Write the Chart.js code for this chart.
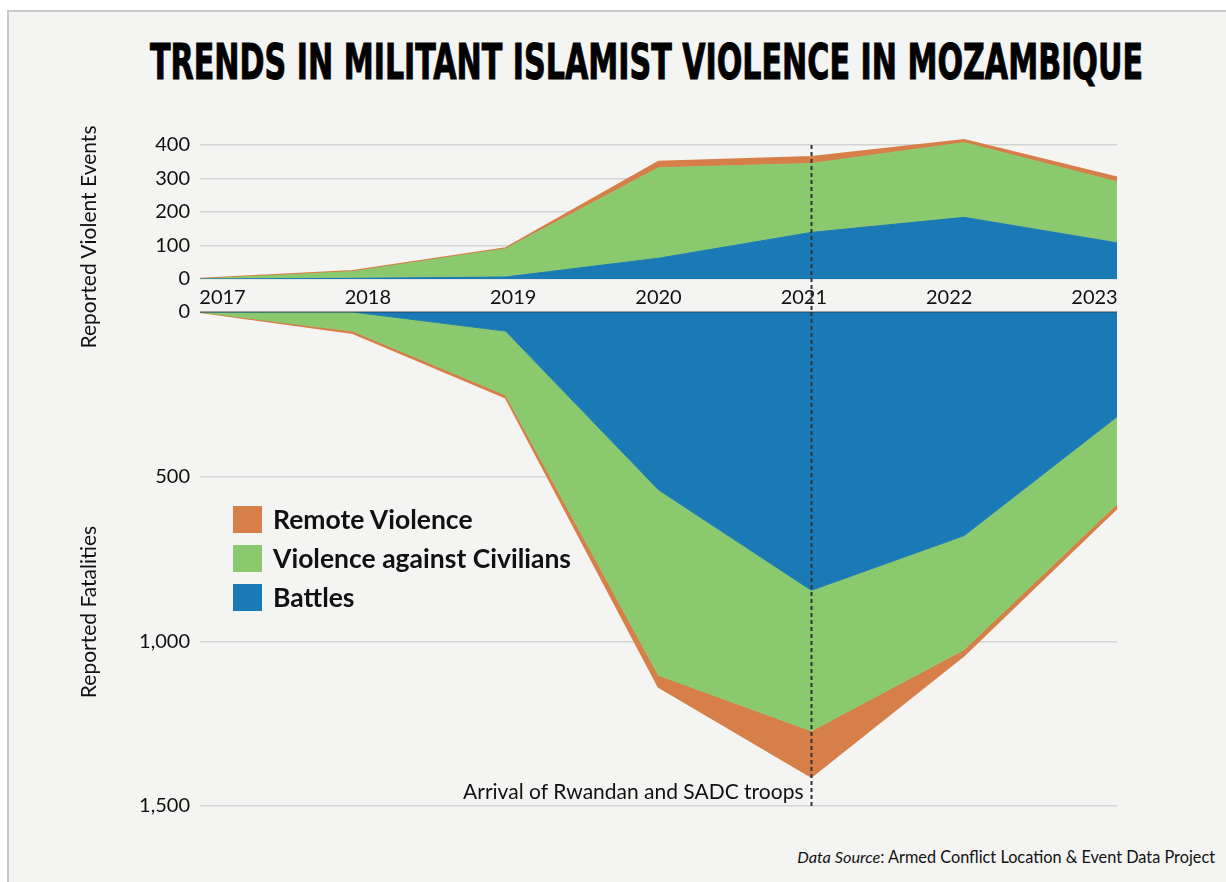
<!DOCTYPE html>
<html><head><meta charset="utf-8">
<script src="https://cdn.jsdelivr.net/npm/chart.js@4.4.1/dist/chart.umd.min.js"></script>
<style>
html,body{margin:0;padding:0;background:#fff;width:1226px;height:882px;overflow:hidden;font-family:Lato,'Open Sans',sans-serif;color:#111;}
#frame{position:absolute;left:7px;top:10px;width:1240px;height:900px;background:#f4f4f2;border-left:2px solid #c8c8c8;border-top:2px solid #c8c8c8;}
#title{position:absolute;left:150px;top:37px;white-space:nowrap;font-weight:bold;font-size:50px;font-family:'Liberation Sans Narrow','DejaVu Sans Condensed','Liberation Sans',sans-serif;line-height:1;transform-origin:0 0;color:#000;-webkit-text-stroke:1px #000;}
canvas{position:absolute;left:0;}
.ytitle{position:absolute;white-space:nowrap;font-size:21px;transform:translate(-50%,-50%) rotate(-90deg);color:#111;}
#legend{position:absolute;left:233px;top:506px;}
.lrow{position:absolute;left:0;height:27px;white-space:nowrap;}
.lsw{position:absolute;left:0;top:0;width:29px;height:27px;}
.ltx{position:absolute;left:40px;top:50%;transform:translateY(-52%);font-weight:bold;font-size:26.5px;color:#111;}
#source{position:absolute;right:11px;top:847px;font-size:16.3px;white-space:nowrap;color:#111;}
</style></head>
<body>
<div id="frame"></div>
<div id="title">TRENDS IN MILITANT ISLAMIST VIOLENCE IN MOZAMBIQUE</div>
<canvas id="topChart" width="1226" height="200" style="top:120px"></canvas>
<canvas id="botChart" width="1226" height="530" style="top:300px"></canvas>
<div class="ytitle" style="left:87px;top:237px">Reported Violent Events</div>
<div class="ytitle" style="left:87px;top:612px">Reported Fatalities</div>
<div id="legend"></div>
<div id="source"><i>Data Source</i>: Armed Conflict Location &amp; Event Data Project</div>
<script>
const years = ['2017','2018','2019','2020','2021','2022','2023'];
const seriesNames = ['Battles','Violence against Civilians','Remote Violence'];
const seriesColors = ['#1a7ab5','#8bc96f','#d77f49'];
const eventsBattles   = [0, 2, 6, 62, 139, 184, 108];
const eventsCivilians = [0, 20, 84, 270, 206, 223, 182];
const eventsRemote    = [1, 2, 2, 18, 19, 8, 13];
const fatalBattles    = [0, 0, 58, 540, 845, 679, 318];
const fatalCivilians  = [0, 58, 194, 563, 427, 346, 265];
const fatalRemote     = [0, 6, 8, 35, 139, 17, 12];
const eventTicks = [0, 100, 200, 300, 400];
const fatalTicks = [0, 500, 1000, 1500];
const markerYear = '2021';
const markerText = 'Arrival of Rwandan and SADC troops';

function makeDatasets(list){
  return list.map((vals,i)=>({
    label: seriesNames[i], data: vals, xAxisID:'x', yAxisID:'y',
    backgroundColor: seriesColors[i], borderColor: seriesColors[i],
    borderWidth: i===2 ? 2 : 1, fill: i===0 ? 'origin' : '-1',
    pointRadius: 0, tension: 0
  }));
}

const markerPlugin = {
  id:'marker',
  afterDatasetsDraw(chart){
    const ctx = chart.ctx, xs = chart.scales.x, ys = chart.scales.y;
    const x = Math.round(xs.getPixelForValue(years.indexOf(markerYear))) + 0.5;
    const isTop = chart.canvas.id === 'topChart';
    ctx.save();
    if (!isTop) {
      const y0 = ys.getPixelForValue(0);
      ctx.strokeStyle = 'rgba(30,30,30,0.28)';
      ctx.lineWidth = 2;
      ctx.beginPath(); ctx.moveTo(chart.chartArea.left, y0); ctx.lineTo(chart.chartArea.right, y0); ctx.stroke();
    }
    const y1 = isTop ? ys.getPixelForValue(eventTicks[eventTicks.length-1]) : chart.chartArea.top;
    const y2 = isTop ? chart.chartArea.bottom + 32 : ys.getPixelForValue(fatalTicks[fatalTicks.length-1]) + 3;
    ctx.strokeStyle = '#333'; ctx.lineWidth = 2; ctx.setLineDash([4,3]);
    ctx.beginPath(); ctx.moveTo(x, y1); ctx.lineTo(x, y2); ctx.stroke();
    if (!isTop) {
      ctx.setLineDash([]);
      ctx.fillStyle = '#111'; ctx.font = '21px Lato, "Open Sans", sans-serif';
      ctx.textAlign = 'right'; ctx.textBaseline = 'alphabetic';
      ctx.fillText(markerText, x - 8, ys.getPixelForValue(fatalTicks[fatalTicks.length-1]) - 7);
    }
    ctx.restore();
  }
};

function yAxis(extra){
  return Object.assign({
    stacked: true,
    grid: {color:'#d3d3d3', lineWidth:1.5, drawTicks:true, tickLength:10, tickColor:'rgba(0,0,0,0)'},
    border: {display:false},
    ticks: {padding:0, color:'#111', font:{size:20}},
    afterFit: s => { s.width = 200; }
  }, extra);
}

function build(){
  Chart.defaults.font.family = 'Lato, "Open Sans", sans-serif';
  Chart.defaults.color = '#111';
  const common = {responsive:false, animation:false, events:[], locale:'en-US',
    plugins:{legend:{display:false}, tooltip:{enabled:false}}};

  new Chart(document.getElementById('topChart'), {
    type:'line',
    data:{labels:years, datasets:makeDatasets([eventsBattles, eventsCivilians, eventsRemote])},
    options:Object.assign({}, common, {
      layout:{padding:{top:18.3, right:109, left:0, bottom:0}},
      scales:{
        x:{type:'category', display:false, offset:false},
        xl:{type:'linear', position:'bottom', min:-0.1548, max:6.1548,
            grid:{display:false, drawTicks:false}, border:{display:false},
            ticks:{padding:7, autoSkip:false, maxRotation:0, color:'#111', font:{size:20},
                   callback:v => years[v]},
            afterBuildTicks:s => { s.ticks = years.map((_,i)=>({value:i})); },
            afterFit:s => { s.height = 41; }},
        y:yAxis({min:0, max:420, afterBuildTicks:s => { s.ticks = eventTicks.map(v=>({value:v})); }})
      }
    }),
    plugins:[markerPlugin]
  });

  new Chart(document.getElementById('botChart'), {
    type:'line',
    data:{labels:years, datasets:makeDatasets([fatalBattles, fatalCivilians, fatalRemote])},
    options:Object.assign({}, common, {
      layout:{padding:{top:11, right:109, left:0, bottom:24}},
      scales:{
        x:{type:'category', display:false, offset:false},
        y:yAxis({min:0, max:1500, reverse:true, afterBuildTicks:s => { s.ticks = fatalTicks.map(v=>({value:v})); }})
      }
    }),
    plugins:[markerPlugin]
  });

  const leg = document.getElementById('legend');
  seriesNames.slice().reverse().forEach((name, k) => {
    const i = seriesNames.length - 1 - k;
    const row = document.createElement('div');
    row.className = 'lrow'; row.style.top = (k*39) + 'px';
    row.innerHTML = '<div class="lsw" style="background:' + seriesColors[i] + '"></div><div class="ltx">' + name + '</div>';
    leg.appendChild(row);
  });

  const t = document.getElementById('title');
  const w = t.getBoundingClientRect().width;
  t.style.transform = 'scaleX(' + (993 / w) + ')';
}
if (document.fonts && document.fonts.ready) document.fonts.ready.then(build); else build();
</script>
</body></html>
